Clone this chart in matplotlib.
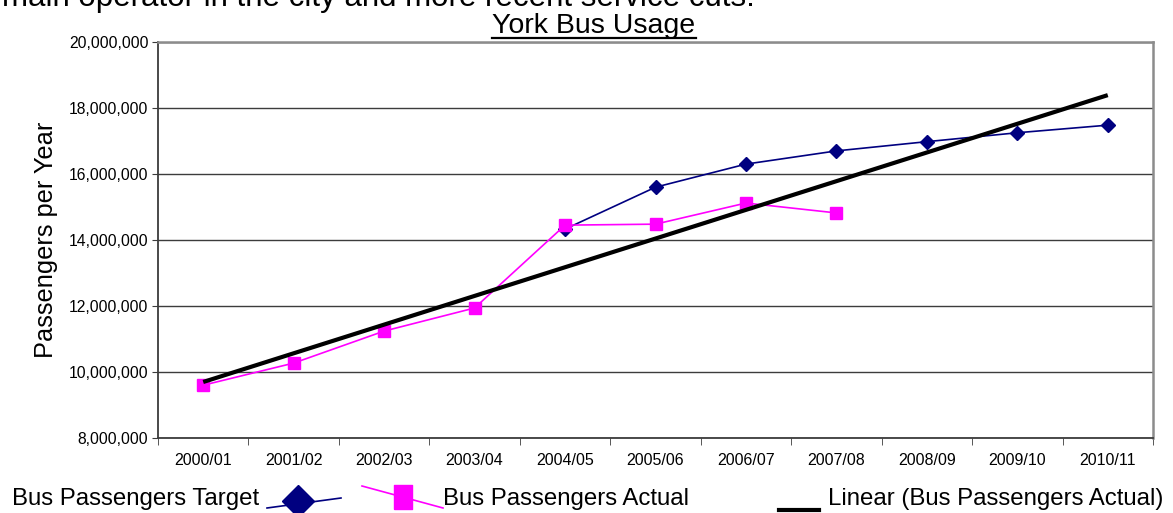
import numpy as np
import matplotlib
matplotlib.use("Agg")
import matplotlib.pyplot as plt
from matplotlib.lines import Line2D

plt.rcParams['font.family'] = ['Liberation Sans', 'DejaVu Sans']

years = ["2000/01", "2001/02", "2002/03", "2003/04", "2004/05", "2005/06",
         "2006/07", "2007/08", "2008/09", "2009/10", "2010/11"]
# passengers carried (actual) and the target path from 2004/05 on
actual = [9600000, 10270000, 11240000, 11940000, 14450000, 14480000, 15120000, 14820000]
target = [14330000, 15600000, 16300000, 16700000, 16980000, 17250000, 17480000]
target_start = 4

NAVY = "#000080"
PINK = "#ff00ff"
GRID = "#3c3c3c"

fig = plt.figure(figsize=(11.73, 5.13), dpi=100)
ax = fig.add_axes([158 / 1173, 1 - 438 / 513, 995 / 1173, 396 / 513])

x_all = np.arange(len(years))
x_act = x_all[:len(actual)]
x_tgt = x_all[target_start:target_start + len(target)]

# linear trend of actual figures, carried across the whole range
k, b = np.polyfit(x_act, actual, 1)

ax.plot(x_tgt, target, color=NAVY, lw=1.2, marker="D", ms=7, mec=NAVY, mfc=NAVY, zorder=3)
ax.plot(x_act, actual, color=PINK, lw=1.2, marker="s", ms=9, mec=PINK, mfc=PINK, zorder=4)
ax.plot(x_all, k * x_all + b, color="black", lw=3, zorder=5, solid_capstyle="butt")

ax.set_xlim(-0.5, len(years) - 0.5)
ax.set_ylim(8000000, 20000000)
ax.set_yticks(np.arange(8000000, 20000001, 2000000))
ax.yaxis.set_major_formatter(matplotlib.ticker.FuncFormatter(lambda v, p: f"{int(v):,}"))
ax.grid(axis="y", color=GRID, lw=1.0)
ax.set_axisbelow(True)

ax.set_xticks(x_all)
ax.set_xticklabels(years)
ax.set_xticks(np.arange(-0.5, len(years)), minor=True)
ax.tick_params(axis="x", which="major", length=0, pad=11, labelsize=11.5)
ax.tick_params(axis="x", which="minor", length=5, color=GRID, direction="out")
ax.tick_params(axis="y", length=4, color=GRID, labelsize=11.3, pad=3)

for side in ("left", "bottom"):
    ax.spines[side].set_color(GRID)
    ax.spines[side].set_linewidth(1.3)
for side in ("top", "right"):
    ax.spines[side].set_color("#8c8c8c")
    ax.spines[side].set_linewidth(1.8)

ax.set_ylabel("Passengers per Year", fontsize=18.3, labelpad=8)
title = fig.text(594 / 1173, 1 - 26 / 513, "York Bus Usage", fontsize=20.5, ha="center", va="center")

# underline the title across its own width
fig.canvas.draw()
bb = title.get_window_extent().transformed(fig.transFigure.inverted())
fig.add_artist(Line2D([bb.x0, bb.x1], [1 - 37.5 / 513, 1 - 37.5 / 513],
                      transform=fig.transFigure, color="black", lw=1.6))

# tail of the preceding paragraph, cut at the top edge
fig.text(2 / 1173, 1 - 6 / 513, "main operator in the city and more recent service cuts.",
         fontsize=22.5, ha="left", va="baseline")

# legend row
tf = fig.transFigure
W, H = 1173, 513
rect = [(-0.375, -0.5), (0.375, -0.5), (0.375, 0.5), (-0.375, 0.5), (-0.375, -0.5)]
fig.text(12 / W, 1 - 499 / H, "Bus Passengers Target", fontsize=17.3, ha="left", va="center")
fig.add_artist(Line2D([267 / W, 341 / W], [1 - 508 / H, 1 - 498 / H], transform=tf, color=NAVY, lw=1.2))
fig.add_artist(Line2D([298 / W], [1 - 501 / H], transform=tf, color=NAVY, marker="D", ms=16, lw=0))
fig.add_artist(Line2D([362 / W, 443 / W], [1 - 486 / H, 1 - 508 / H], transform=tf, color=PINK, lw=1.2))
fig.add_artist(Line2D([403 / W], [1 - 497 / H], transform=tf, color=PINK, marker=rect, ms=17.5, lw=0))
fig.text(443 / W, 1 - 499 / H, "Bus Passengers Actual", fontsize=17.3, ha="left", va="center")
fig.add_artist(Line2D([779 / W, 819 / W], [1 - 509.5 / H, 1 - 509.5 / H], transform=tf, color="black", lw=3))
fig.text(828 / W, 1 - 499 / H, "Linear (Bus Passengers Actual)", fontsize=17.3, ha="left", va="center")

fig.savefig("out.png", dpi=100)
